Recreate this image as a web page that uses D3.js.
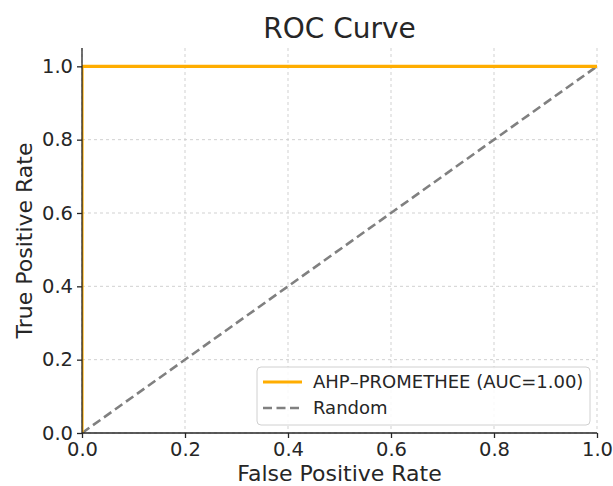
<!DOCTYPE html>
<html lang="en">
<head>
<meta charset="UTF-8">
<title>ROC Curve</title>
<script src="https://d3js.org/d3.v7.min.js"></script>
<style>
  body { margin: 0; background: #fff; }
  svg { display: block; }
  text { font-family: "DejaVu Sans", sans-serif; fill: #262626; }
  .grid line { stroke: #cccccc; stroke-width: 0.9; stroke-dasharray: 3,3; }
  .axis path, .axis line { stroke: #262626; stroke-width: 1.3; }
</style>
</head>
<body>
<svg id="chart" width="613" height="486"></svg>
<script>
// data
const rocFpr = [0, 0, 1];
const rocTpr = [0, 1, 1];
const randFpr = [0, 1];
const randTpr = [0, 1];
const tickValues = [0, 0.2, 0.4, 0.6, 0.8, 1.0];
const seriesNames = ["AHP\u2013PROMETHEE (AUC=1.00)", "Random"];

const width = 613, height = 486;
const margin = {top: 48, right: 16, bottom: 53, left: 82};
const innerW = width - margin.left - margin.right;
const innerH = height - margin.top - margin.bottom;

const svg = d3.select("#chart");
const g = svg.append("g").attr("transform", `translate(${margin.left},${margin.top})`);

const x = d3.scaleLinear().domain([0, 1]).range([0, innerW]);
const y = d3.scaleLinear().domain([0, 1.05]).range([innerH, 0]);

// grid
g.append("g").attr("class", "grid")
  .selectAll("line.v").data(tickValues).enter().append("line")
  .attr("x1", d => x(d)).attr("x2", d => x(d))
  .attr("y1", 0).attr("y2", innerH);
g.append("g").attr("class", "grid")
  .selectAll("line.h").data(tickValues).enter().append("line")
  .attr("x1", 0).attr("x2", innerW)
  .attr("y1", d => y(d)).attr("y2", d => y(d));

g.append("clipPath").attr("id", "clip")
  .append("rect").attr("width", innerW).attr("height", innerH);

const line = d3.line().x(d => x(d[0])).y(d => y(d[1]));

g.append("path")
  .datum(d3.zip(randFpr, randTpr))
  .attr("clip-path", "url(#clip)")
  .attr("d", line)
  .attr("fill", "none")
  .attr("stroke", "#808080")
  .attr("stroke-width", 2.6)
  .attr("stroke-dasharray", "9,4.5");

g.append("path")
  .datum(d3.zip(rocFpr, rocTpr))
  .attr("clip-path", "url(#clip)")
  .attr("d", line)
  .attr("fill", "none")
  .attr("stroke", "#ffad00")
  .attr("stroke-width", 3.2);

// axes
const xAxis = g.append("g").attr("class", "axis")
  .attr("transform", `translate(0,${innerH})`)
  .call(d3.axisBottom(x).tickValues(tickValues).tickFormat(d3.format(".1f")).tickSize(5).tickPadding(4));
const yAxis = g.append("g").attr("class", "axis")
  .call(d3.axisLeft(y).tickValues(tickValues).tickFormat(d3.format(".1f")).tickSize(5).tickPadding(4));
[xAxis, yAxis].forEach(a => {
  a.select(".domain").attr("d", null);
  a.selectAll("text").style("font-size", "19.5px").attr("fill", "#262626");
});
// spines
g.append("line").attr("class", "spine")
  .attr("x1", 0).attr("x2", 0).attr("y1", 0).attr("y2", innerH)
  .attr("stroke", "#262626").attr("stroke-width", 1.3);
g.append("line").attr("class", "spine")
  .attr("x1", 0).attr("x2", innerW).attr("y1", innerH).attr("y2", innerH)
  .attr("stroke", "#262626").attr("stroke-width", 1.3);

// titles
svg.append("text")
  .attr("x", margin.left + innerW / 2).attr("y", 38)
  .attr("text-anchor", "middle")
  .style("font-size", "28px")
  .text("ROC Curve");
svg.append("text")
  .attr("x", margin.left + innerW / 2).attr("y", 481)
  .attr("text-anchor", "middle")
  .style("font-size", "22px")
  .text("False Positive Rate");
svg.append("text")
  .attr("transform", `translate(32,${margin.top + innerH / 2}) rotate(-90)`)
  .attr("text-anchor", "middle")
  .style("font-size", "22px")
  .text("True Positive Rate");

// legend
const legend = svg.append("g").attr("transform", "translate(257,367)");
legend.append("rect")
  .attr("width", 333).attr("height", 58).attr("rx", 4)
  .attr("fill", "#fff").attr("fill-opacity", 0.85)
  .attr("stroke", "#d0d0d0").attr("stroke-width", 1);
const styles = [
  {color: "#ffad00", dash: null, w: 3.2},
  {color: "#808080", dash: "9,4.5", w: 2.6}
];
seriesNames.forEach((name, i) => {
  const row = legend.append("g").attr("transform", `translate(0,${15 + i * 26})`);
  row.append("line")
    .attr("x1", 6).attr("x2", 45).attr("y1", 0).attr("y2", 0)
    .attr("stroke", styles[i].color).attr("stroke-width", styles[i].w)
    .attr("stroke-dasharray", styles[i].dash);
  row.append("text")
    .attr("x", 56).attr("y", 0).attr("dy", "0.35em")
    .style("font-size", "18px")
    .text(name);
});
</script>
</body>
</html>
